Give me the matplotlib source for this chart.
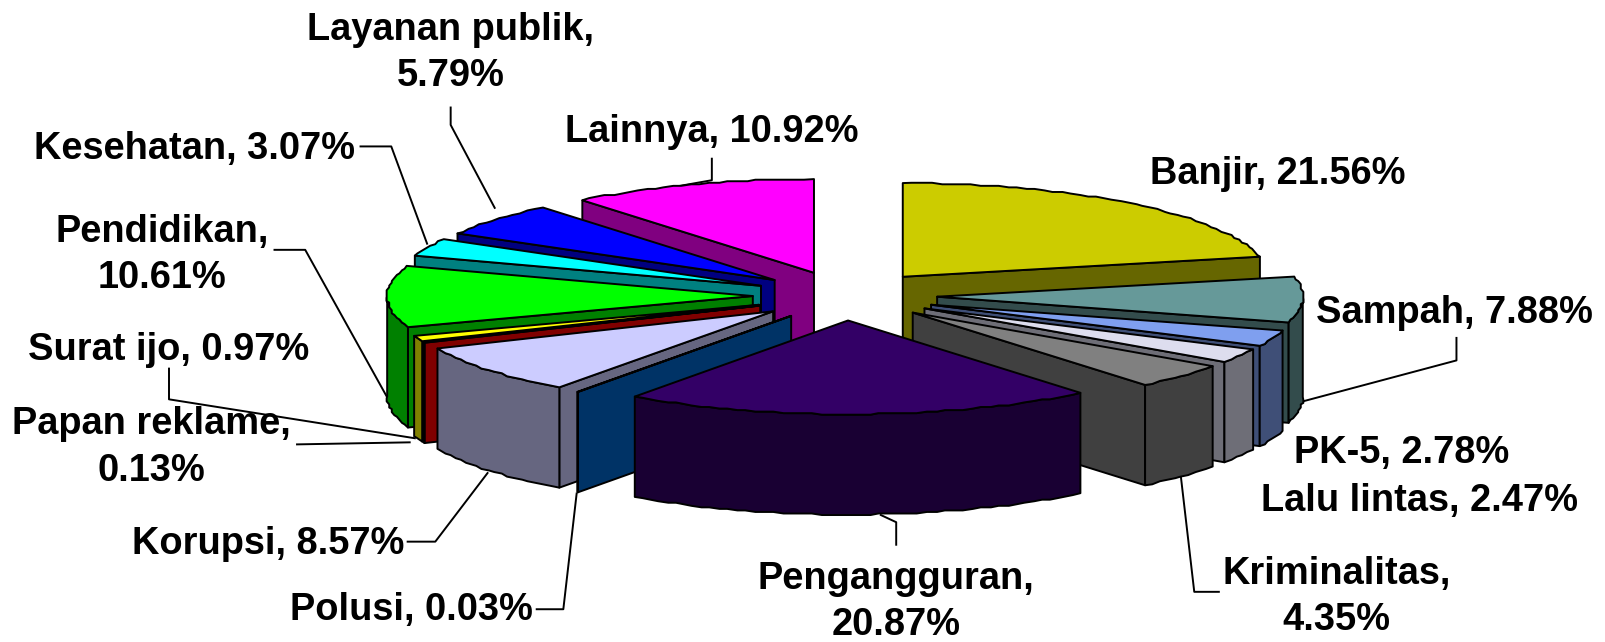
import numpy as np
import matplotlib
matplotlib.use("Agg")
import matplotlib.pyplot as plt
from matplotlib.patches import Polygon

kategori = ["Banjir", "Sampah", "PK-5", "Lalu lintas", "Kriminalitas", "Pengangguran", "Polusi",
            "Korupsi", "Papan reklame", "Surat ijo", "Pendidikan", "Kesehatan", "Layanan publik", "Lainnya"]
nilai = [21.56, 7.88, 2.78, 2.47, 4.35, 20.87, 0.03, 8.57, 0.13, 0.97, 10.61, 3.07, 5.79, 10.92]
warna = ["#CCCC00", "#669999", "#7F9FEF", "#DDDDEE", "#808080", "#330066", "#006699",
         "#CCCCFF", "#FF0000", "#FFFF00", "#00FF00", "#00FFFF", "#0000FF", "#FF00FF"]
warna_sisi = ["#666600", "#334C4C", "#3F4F77", "#6E6E77", "#404040", "#190033", "#003366",
              "#666680", "#800000", "#808000", "#008000", "#008080", "#000080", "#800080"]

# posisi label: x tengah, y tengah (koordinat gambar)
label_pos = [(1248, 170), (1420, 306), (1368, 442), (1386, 489), (1305, 583), (875, 588), (402, 596),
             (262, 531), (148, 437), (165, 342), (158, 249), (190, 146), (440, 52), (695, 129)]
label_pisah = ["Kriminalitas", "Pengangguran", "Papan reklame", "Pendidikan", "Layanan publik"]

garis_label = [
    [(1422, 330), (1422, 352), (1272, 392)],
    [(1190, 578), (1166, 578), (1153, 466)],
    [(875, 532), (875, 510), (860, 503)],
    [(524, 595), (550, 595), (563, 482)],
    [(398, 529), (425, 529), (476, 462)],
    [(290, 434), (400, 432)],
    [(165, 360), (165, 390), (405, 428)],
    [(268, 244), (298, 244), (378, 388)],
    [(352, 143), (382, 143), (417, 238)],
    [(440, 105), (440, 122), (483, 203)],
    [(695, 155), (695, 176), (650, 184)],
]

cx, cy = 825, 289
rx, ry = 357, 91.5
ex, ey = 90, 24
tebal = 98
lw = 1.4

fig = plt.figure(figsize=(16.06, 6.42), dpi=100)
ax = fig.add_axes([0, 0, 1, 1])
ax.set_xlim(0, 1568)
ax.set_ylim(627, 0)
ax.axis("off")
plt.rcParams["font.family"] = ["Liberation Sans", "DejaVu Sans"]

for g in garis_label:
    xs, ys = zip(*g)
    ax.plot(xs, ys, color="black", lw=lw, zorder=1)

batas = np.concatenate([[0], np.cumsum(nilai)]) / np.sum(nilai) * 360
tengah = (batas[:-1] + batas[1:]) / 2
urutan = np.argsort(-np.cos(np.radians(tengah)))


def busur(x0, y0, t1, t2):
    n = max(2, int((t2 - t1) / 1.5) + 1)
    t = np.radians(np.linspace(t1, t2, n))
    x = x0 + rx * np.sin(t)
    y = y0 - ry * np.cos(t)
    # tepi bergerigi seperti aslinya
    x[1:-1] = np.round(x[1:-1] / 2.5) * 2.5
    y[1:-1] = np.round(y[1:-1] / 1.5) * 1.5
    return x, y


def muka(x, y, warna_muka, z):
    ax.add_patch(Polygon(np.column_stack([x, y]), closed=True, facecolor=warna_muka,
                         edgecolor="black", lw=lw, joinstyle="round", zorder=z))


z = 2
for i in urutan:
    t1, t2 = batas[i], batas[i + 1]
    m = np.radians(tengah[i])
    x0 = cx + ex * np.sin(m)
    y0 = cy - ey * np.cos(m)
    ax_, ay_ = busur(x0, y0, t1, t2)

    # sisi potongan yang menghadap depan
    if np.sin(np.radians(t1)) < 0:
        muka([x0, ax_[0], ax_[0], x0], [y0, ay_[0], ay_[0] + tebal, y0 + tebal], warna_sisi[i], z)
    if np.sin(np.radians(t2)) > 0:
        muka([x0, ax_[-1], ax_[-1], x0], [y0, ay_[-1], ay_[-1] + tebal, y0 + tebal], warna_sisi[i], z)

    # sisi luar (hanya bagian depan, 90..270 derajat)
    a1, a2 = max(t1, 90), min(t2, 270)
    if a2 > a1:
        bx, by = busur(x0, y0, a1, a2)
        muka(np.concatenate([bx, bx[::-1]]), np.concatenate([by, by[::-1] + tebal]), warna_sisi[i], z)

    # muka atas
    muka(np.concatenate([[x0], ax_]), np.concatenate([[y0], ay_]), warna[i], z)
    z += 1

for nama, v, (lx, ly) in zip(kategori, nilai, label_pos):
    pemisah = ",\n" if nama in label_pisah else ", "
    ax.text(lx, ly, f"{nama}{pemisah}{v:.2f}%", ha="center", va="center", fontsize=27.4,
            fontweight="bold", family=["Liberation Sans", "DejaVu Sans"], color="black",
            linespacing=1.37, zorder=50)

fig.savefig("out.png", dpi=100)
